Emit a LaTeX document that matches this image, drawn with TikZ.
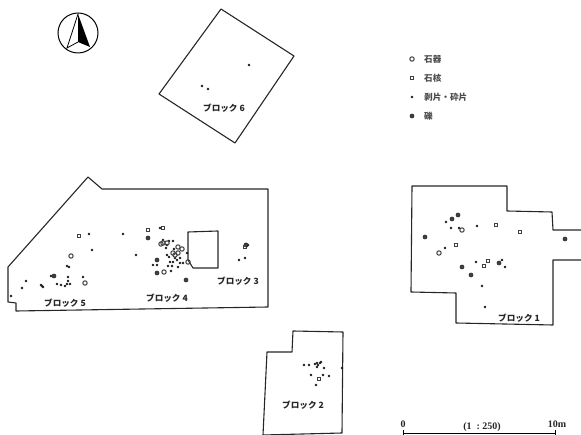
\documentclass[tikz,border=0pt]{standalone}
\usepackage{fontspec}
\newfontfamily\jpfont{Noto Sans CJK JP}
\setmainfont{Liberation Serif}
\usetikzlibrary{positioning,calc}
\tikzset{
  outline/.style={line width=1.1pt,black!85,line join=round},
  blocklabel/.style={font=\jpfont\bfseries\fontsize{8.6}{9}\selectfont,text=black!85,inner sep=0pt},
  legendlabel/.style={font=\jpfont\bfseries\fontsize{8.6}{10}\selectfont,text=black!70,inner sep=0pt,anchor=west},
  scalelabel/.style={font=\bfseries\fontsize{10}{10}\selectfont,text=black!85,inner sep=0pt}
}
\newcommand{\chipdot}[1]{\fill[black!90] (#1) circle (1.4);}
\newcommand{\pebble}[1]{\draw[black!85,line width=0.6pt,fill=black!75] (#1) circle (2);}
\newcommand{\toolring}[1]{\draw[black!75,line width=1pt] (#1) circle (2.2);}
\newcommand{\coresq}[1]{\draw[black!75,line width=1pt] ($(#1)+(-1.9,-1.9)$) rectangle ($(#1)+(1.9,1.9)$);}
\begin{document}
\begin{tikzpicture}[x=1pt,y=-1pt]
    \useasboundingbox (0,0) rectangle (581,435);

    % north mark
    \draw[line width=1pt] (78,33) circle (20);
    \draw[line width=0.8pt] (78,14) -- (67,48) -- (78,42);
    \fill (78,14) -- (90,47) -- (78,42) -- cycle;

    % survey blocks
    \draw[outline] (221,9) -- (294,56) -- (235,143) -- (159,94) -- cycle;
    \draw[outline] (88,177) -- (102,189) -- (268,189) -- (268,307) -- (16,311)
      -- (16,303) -- (8,302) -- (8,267) -- cycle;
    \draw[outline] (188,232) -- (218,231) -- (218,268) -- (193,268)
      -- (188,260) -- cycle;
    \draw[outline] (581,230) -- (553,230) -- (552,212) -- (507,211) -- (507,186)
      -- (412,186) -- (411,292) -- (456,293) -- (456,323) -- (553,325)
      -- (553,260) -- (581,260);
    \draw[outline] (263,435) -- (267,352) -- (292,352) -- (293,331) -- (343,332)
      -- (342,433) -- (263,435);

    % block labels
    \node[blocklabel] (block1) at (519,318) {ブロック 1};
    \node[blocklabel] (block2) at (303,405) {ブロック 2};
    \node[blocklabel] (block3) at (238,281) {ブロック 3};
    \node[blocklabel] (block4) at (167,298) {ブロック 4};
    \node[blocklabel] (block5) at (65,303) {ブロック 5};
    \node[blocklabel] (block6) at (224,108) {ブロック 6};

    % small chips
    \foreach \a/\b in {
      446/222,451/228,477/226,476/262,505/267,482/286,485/307,445/248,459/228,502/260,
      304/365,309/365,315/364,317/363,318/365,317/367,320/363,321/362,324/368,311/375,323/375,329/376,316/385,342/368,
      51/276,67/266,69/267,68/277,68/281,57/284,61/285,65/286,67/284,70/284,41/285,42/286,43/287,
      26/281,22/288,11/296,83/277,89/234,92/250,
      123/234,136/255,153/265,157/265,171/271,167/255,169/257,173/262,170/262,168/266,172/266,
      178/267,180/263,183/263,163/240,169/241,173/241,167/245,166/248,177/260,175/258,187/253,
      160/228,180/258,174/249,246/244,248/245,247/246,245/258,239/260,
      202/86,208/89,249/65}
      {\chipdot{\a,\b}}

    % pebbles
    \foreach \a/\b in {458/215,452/219,425/237,462/267,471/275,499/263,565/239,
      54/276,148/238,157/273,186/280,157/260,246/245}
      {\pebble{\a,\b}}

    % stone tools
    \foreach \a/\b in {462/230,439/253,71/256,85/283,161/244,163/243,167/243,178/247,182/249,
      175/255,178/253,173/253,164/272,188/262}
      {\toolring{\a,\b}}

    % cores
    \foreach \a/\b in {496/225,520/232,456/245,488/261,484/266,319/379,79/236,148/230,163/228,245/247}
      {\coresq{\a,\b}}

    % legend
    \toolring{412,59}
    \coresq{412,78}
    \chipdot{412,97}
    \pebble{412,116}
    \node[legendlabel] (tool) at (424,59) {石器};
    \node[legendlabel] (core) at (424,78) {石核};
    \node[legendlabel] (chip) at (424,97) {剥片・砕片};
    \node[legendlabel] (gravel) at (424,116) {礫};

    % scale bar
    \node[scalelabel] (zero) at (403,424) {0};
    \node[scalelabel] (ratio) at (482,427) {(1\ \ :\ 250)};
    \node[scalelabel] (ten) at (557,424) {10m};
    \coordinate (barleft) at (403,433);
    \coordinate (barright) at (555,433);
    \draw[line width=0.8pt] (barleft) -- (barright);
    \draw[line width=0.8pt] (403,430) -- (403,435) (555,430) -- (555,435);
  \end{tikzpicture}
\end{document}
